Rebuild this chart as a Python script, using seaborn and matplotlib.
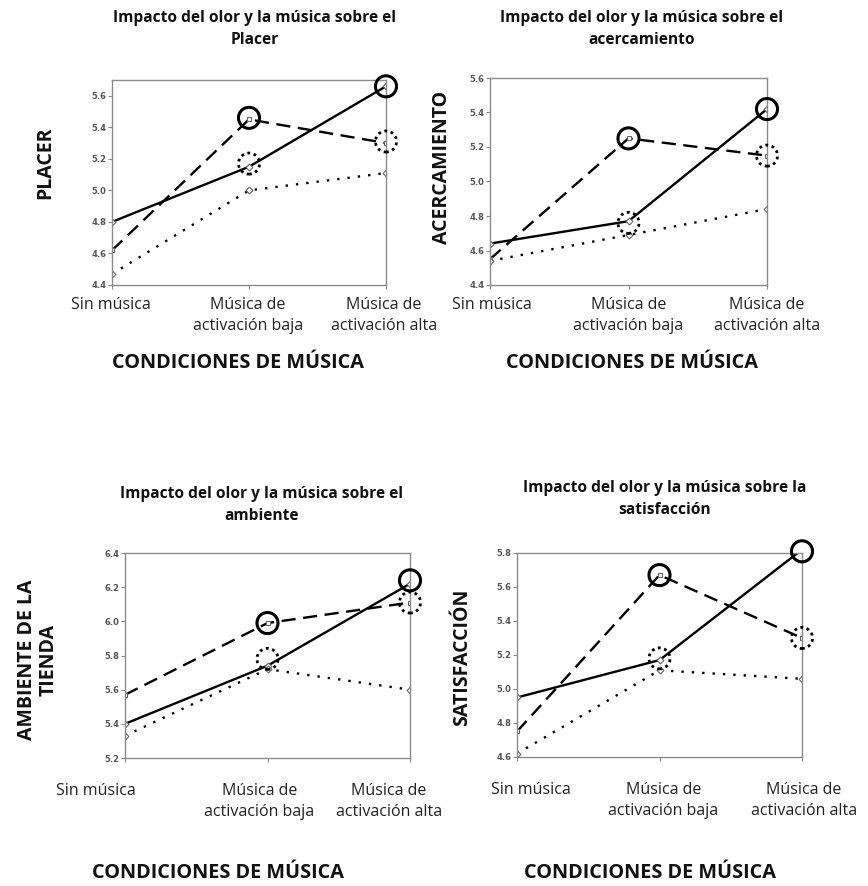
import numpy as np
import pandas as pd
import matplotlib
matplotlib.use("Agg")
import matplotlib.pyplot as plt
import seaborn as sns

sns.set_theme(style="white")
plt.rcParams['font.family'] = ['Open Sans', 'DejaVu Sans']

# ---------------- data ----------------
categories = ["Sin música", "Música de\nactivación baja", "Música de\nactivación alta"]
series_names = ["continua", "discontinua", "punteada"]

titles = ["Impacto del olor y la música sobre el\nPlacer",
          "Impacto del olor y la música sobre el\nacercamiento",
          "Impacto del olor y la música sobre el\nambiente",
          "Impacto del olor y la música sobre la\nsatisfacción"]
ylabels = ["PLACER", "ACERCAMIENTO", "AMBIENTE DE LA\nTIENDA", "SATISFACCIÓN"]
xlabel = "CONDICIONES DE MÚSICA"

# Placer
placer_solid = [4.80, 5.15, 5.66]
placer_dashed = [4.62, 5.45, 5.30]
placer_dotted = [4.47, 5.00, 5.11]
# Acercamiento
acerc_solid = [4.64, 4.77, 5.42]
acerc_dashed = [4.55, 5.25, 5.15]
acerc_dotted = [4.54, 4.69, 4.84]
# Ambiente
amb_solid = [5.40, 5.74, 6.22]
amb_dashed = [5.57, 5.99, 6.11]
amb_dotted = [5.33, 5.72, 5.60]
# Satisfaccion
sat_solid = [4.95, 5.17, 5.82]
sat_dashed = [4.75, 5.67, 5.30]
sat_dotted = [4.62, 5.11, 5.06]

# highlighted points (category index, value)
placer_circ_solid_x, placer_circ_solid_y = [1, 2], [5.46, 5.66]
placer_circ_dot_x, placer_circ_dot_y = [1, 2], [5.17, 5.31]
acerc_circ_solid_x, acerc_circ_solid_y = [1, 2], [5.25, 5.42]
acerc_circ_dot_x, acerc_circ_dot_y = [1, 2], [4.76, 5.15]
amb_circ_solid_x, amb_circ_solid_y = [1, 2], [5.99, 6.24]
amb_circ_dot_x, amb_circ_dot_y = [1, 2], [5.78, 6.11]
sat_circ_solid_x, sat_circ_solid_y = [1, 2], [5.67, 5.81]
sat_circ_dot_x, sat_circ_dot_y = [1, 2], [5.18, 5.30]

y_limits = [(4.4, 5.7), (4.4, 5.6), (5.2, 6.4), (4.6, 5.8)]
y_ticks = [[4.4, 4.6, 4.8, 5.0, 5.2, 5.4, 5.6],
           [4.4, 4.6, 4.8, 5.0, 5.2, 5.4, 5.6],
           [5.2, 5.4, 5.6, 5.8, 6.0, 6.2, 6.4],
           [4.6, 4.8, 5.0, 5.2, 5.4, 5.6, 5.8]]

panels = [
    (placer_solid, placer_dashed, placer_dotted,
     placer_circ_solid_x, placer_circ_solid_y, placer_circ_dot_x, placer_circ_dot_y),
    (acerc_solid, acerc_dashed, acerc_dotted,
     acerc_circ_solid_x, acerc_circ_solid_y, acerc_circ_dot_x, acerc_circ_dot_y),
    (amb_solid, amb_dashed, amb_dotted,
     amb_circ_solid_x, amb_circ_solid_y, amb_circ_dot_x, amb_circ_dot_y),
    (sat_solid, sat_dashed, sat_dotted,
     sat_circ_solid_x, sat_circ_solid_y, sat_circ_dot_x, sat_circ_dot_y),
]

# ---------------- layout (pixels) ----------------
W, H = 868, 886
fig = plt.figure(figsize=(W / 100, H / 100), dpi=100)
fig.patch.set_facecolor("white")

axes_px = [(112, 80, 386, 285), (490, 78, 767, 285),
           (125, 553, 410, 758), (517, 553, 802, 757)]
title_px = [(255, 29), (642, 29), (262, 505), (665, 499)]
ylabel_px = [(45, 163), (442, 167), (38, 660), (462, 657)]
xlabel_px = [(238, 363), (632, 363), (218, 873), (650, 873)]
ticklab_dy = [-12, -12, -25, -25]  # pixels below axis
ticklab_dx = [[-1, -1, -2], [2, 0, 0], [-29, -8, -21], [14, 4, 2]]  # pixels

dash_map = {"continua": "", "discontinua": (6, 3.2), "punteada": (1, 3.4)}
marker_map = {"continua": "D", "discontinua": "s", "punteada": "D"}

for k, (solid, dashed, dotted, csx, csy, cdx, cdy) in enumerate(panels):
    l, t, r, b = axes_px[k]
    ax = fig.add_axes([l / W, 1 - b / H, (r - l) / W, (b - t) / H])
    df = pd.DataFrame({
        "condicion": categories * 3,
        "valor": solid + dashed + dotted,
        "serie": [series_names[0]] * 3 + [series_names[1]] * 3 + [series_names[2]] * 3,
    })
    sns.lineplot(data=df, x="condicion", y="valor", style="serie",
                 dashes=dash_map, markers=marker_map, color="black",
                 linewidth=1.7, markersize=3.5, markerfacecolor="white",
                 markeredgecolor="#666666", markeredgewidth=0.8,
                 sort=False, legend=False, ax=ax)
    sns.scatterplot(x=[categories[i] for i in csx], y=csy, marker="o", s=230,
                    facecolors="none", edgecolor="black", linewidth=2.2,
                    ax=ax, legend=False, zorder=5, clip_on=False)
    sns.scatterplot(x=[categories[i] for i in cdx], y=cdy, marker="o", s=230,
                    facecolors="none", edgecolor="black", linewidth=2.0,
                    linestyle=(0, (1, 1.3)), ax=ax, legend=False, zorder=5,
                    clip_on=False)
    ax.set_xlim(0, 2)
    ax.set_ylim(*y_limits[k])
    ax.set_yticks(y_ticks[k])
    ax.set_yticklabels([f"{v:.1f}" for v in y_ticks[k]])
    ax.set_xlabel("")
    ax.set_ylabel("")
    for s in ax.spines.values():
        s.set_color("#8a8a8a")
        s.set_linewidth(1.0)
    ax.tick_params(axis="y", length=3, width=0.8, color="#8a8a8a", pad=1,
                   labelsize=6, labelcolor="#555555", left=True)
    for lab in ax.get_yticklabels():
        lab.set_fontfamily("DejaVu Sans")
        lab.set_fontweight("bold")
    ax.tick_params(axis="x", length=3, width=0.8, color="#8a8a8a",
                   bottom=True, labelbottom=False)
    for i, cat in enumerate(categories):
        ax.annotate(cat, xy=(i, 0), xycoords=("data", "axes fraction"),
                    xytext=(ticklab_dx[k][i] * 0.72, ticklab_dy[k] * 0.72),
                    textcoords="offset points", ha="center", va="top",
                    fontsize=11.5, color="#222222", linespacing=1.45,
                    annotation_clip=False)

    tx, ty = title_px[k]
    fig.text(tx / W, 1 - ty / H, titles[k], ha="center", va="center",
             fontsize=11.2, fontweight="bold", color="#111111", linespacing=1.55)
    yx, yy = ylabel_px[k]
    fig.text(yx / W, 1 - yy / H, ylabels[k], ha="center", va="center",
             rotation=90, fontsize=14, fontweight="bold", color="#111111",
             linespacing=1.15)
    xx, xy = xlabel_px[k]
    fig.text(xx / W, 1 - xy / H, xlabel, ha="center", va="center",
             fontsize=14.3, fontweight="bold", color="#111111")

fig.savefig("out.png", dpi=100, facecolor="white")
